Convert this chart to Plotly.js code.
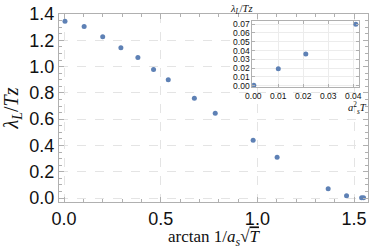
<!DOCTYPE html>
<html><head><meta charset="utf-8">
<script src="https://cdn.plot.ly/plotly-3.0.1.min.js"></script>
<style>body{margin:0;padding:0;background:#fff}#chart{width:374px;height:249px}</style>
</head><body><div id="chart"></div>
<script>
// main series: arctan(1/(a_s sqrt T)) vs lambda_L/(T z)
const mainX = [0.005, 0.104, 0.200, 0.294, 0.382, 0.463, 0.539, 0.674, 0.782, 0.978, 1.102, 1.366, 1.461, 1.539, 1.549];
const mainY = [1.345, 1.305, 1.227, 1.144, 1.070, 0.977, 0.899, 0.760, 0.646, 0.439, 0.311, 0.070, 0.017, 0.002, 0.002];
// inset series: a_s^2 T vs lambda_L/(T z)
const insetX = [0.0, 0.0002, 0.010, 0.021, 0.041];
const insetY = [0.0, 0.0005, 0.0193, 0.036, 0.070];
const mainXTicks = [0.0, 0.5, 1.0, 1.5];
const mainYTicks = [0.0, 0.2, 0.4, 0.6, 0.8, 1.0, 1.2, 1.4];
const insetXTicks = [0.00, 0.01, 0.02, 0.03, 0.04];
const insetYTicks = [0.00, 0.01, 0.02, 0.03, 0.04, 0.05, 0.06, 0.07];

const mcol = '#5e81b5';
const frame = '#b0b0b0';
const grid = '#e4e4e4';
const tickFont = {family: 'Liberation Sans, Arial, sans-serif', size: 18, color: '#111'};
const smallFont = {family: 'Liberation Sans, Arial, sans-serif', size: 8.5, color: '#111'};
const serif = 'Liberation Serif, Times New Roman, serif';

const traces = [
  {x: mainX, y: mainY, type: 'scatter', mode: 'markers', marker: {color: mcol, size: 5}, xaxis: 'x', yaxis: 'y', hoverinfo: 'none'},
  {x: insetX, y: insetY, type: 'scatter', mode: 'markers', marker: {color: mcol, size: 5}, xaxis: 'x2', yaxis: 'y2', hoverinfo: 'none'}
];

const layout = {
  width: 374, height: 249,
  margin: {l: 59, r: 6, t: 14, b: 47, pad: 0},
  paper_bgcolor: '#fff', plot_bgcolor: '#fff',
  showlegend: false,
  xaxis: {
    domain: [0, 1], range: [-0.026, 1.572],
    tickmode: 'array', tickvals: mainXTicks, ticktext: mainXTicks.map(v => v.toFixed(1)),
    tickfont: tickFont, ticks: 'inside', ticklen: 5, tickcolor: frame,
    minor: {dtick: 0.1, ticks: 'inside', ticklen: 3, tickcolor: frame, showgrid: false},
    showline: true, linecolor: frame, linewidth: 1, mirror: 'ticks',
    showgrid: true, gridcolor: grid, griddash: 'dash', zeroline: false,
    title: {text: 'arctan 1/<i>a</i><sub><i>s</i></sub>√<span style="text-decoration:overline"><i>T</i></span>', font: {family: serif, size: 17, color: '#111'}, standoff: 2}
  },
  yaxis: {
    domain: [0, 1], range: [-0.03, 1.4],
    tickmode: 'array', tickvals: mainYTicks, ticktext: mainYTicks.map(v => v.toFixed(1)),
    tickfont: tickFont, ticks: 'inside', ticklen: 5, tickcolor: frame,
    minor: {dtick: 0.05, ticks: 'inside', ticklen: 3, tickcolor: frame, showgrid: false},
    showline: true, linecolor: frame, linewidth: 1, mirror: 'ticks',
    showgrid: true, gridcolor: grid, griddash: 'dash', zeroline: false,
    title: {text: '<i>λ</i><sub><i>L</i></sub>/<i>Tz</i>', font: {family: serif, size: 20, color: '#111'}, standoff: 6}
  },
  xaxis2: {
    domain: [0.6256, 0.971], range: [-0.0004, 0.0423], anchor: 'y2',
    tickmode: 'array', tickvals: insetXTicks, ticktext: insetXTicks.map(v => v.toFixed(2)),
    tickfont: smallFont, ticks: 'inside', ticklen: 3, tickcolor: frame,
    showline: true, linecolor: frame, linewidth: 1, mirror: 'ticks',
    showgrid: true, gridcolor: '#ececec', zeroline: false
  },
  yaxis2: {
    domain: [0.610, 0.964], range: [-0.0018, 0.0739], anchor: 'x2',
    tickmode: 'array', tickvals: insetYTicks, ticktext: insetYTicks.map(v => v.toFixed(2)),
    tickfont: smallFont, ticks: 'inside', ticklen: 3, tickcolor: frame,
    showline: true, linecolor: frame, linewidth: 1, mirror: 'ticks',
    showgrid: true, gridcolor: '#ececec', zeroline: false
  },
  annotations: [
    {text: '<i>λ</i><sub><i>L</i></sub>/<i>Tz</i>', xref: 'paper', yref: 'paper', x: 0.592, y: 0.985, xanchor: 'center', yanchor: 'bottom', showarrow: false, borderpad: 0, font: {family: serif, size: 10.5, color: '#111'}},
    {text: '<i>a</i><sup>2</sup><sub><i>s</i></sub><i>T</i>', xref: 'paper', yref: 'paper', x: 1.0, y: 0.548, xanchor: 'right', yanchor: 'top', showarrow: false, borderpad: 0, font: {family: serif, size: 10.5, color: '#111'}}
  ]
};

Plotly.newPlot('chart', traces, layout, {staticPlot: true, displayModeBar: false});
</script></body></html>
